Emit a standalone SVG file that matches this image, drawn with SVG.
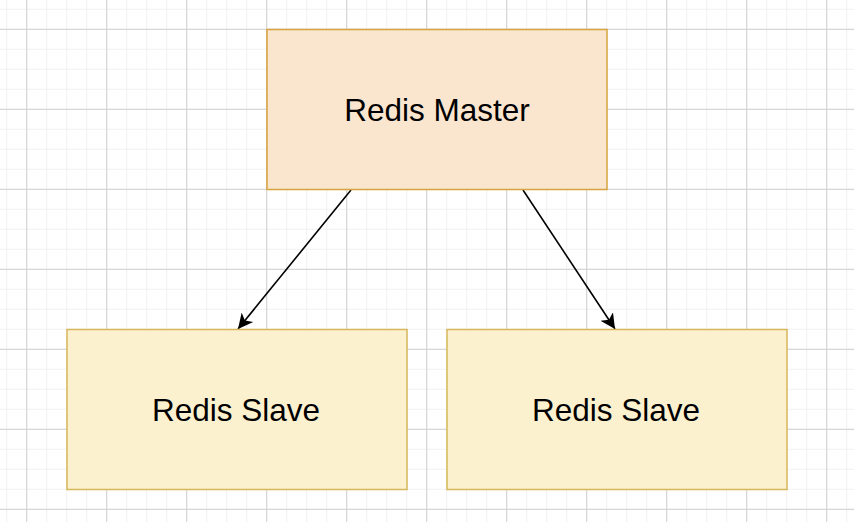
<svg xmlns="http://www.w3.org/2000/svg" width="854" height="522" viewBox="0 0 854 522">
  <style>
    .node-text { font-family: "Liberation Sans", Arial, Helvetica, sans-serif; font-size: 31.5px; fill: #000000; text-anchor: middle; }
    .master { fill: #fae6cf; stroke: #d6a33e; stroke-width: 1.5; }
    .slave { fill: #fcf1cf; stroke: #d6b65b; stroke-width: 1.5; }
    .edge { fill: none; stroke: #000000; stroke-width: 1.6; }
  </style>
  <defs>
    <pattern id="minor" patternUnits="userSpaceOnUse" x="6.2" y="8.8" width="20" height="20">
      <path d="M0 0.5 H20 M0.5 0 V20" fill="none" stroke="#f1f1f1" stroke-width="1"/>
    </pattern>
    <pattern id="major" patternUnits="userSpaceOnUse" x="26.2" y="28.8" width="80" height="80">
      <path d="M0 0.5 H80 M0.5 0 V80" fill="none" stroke="#d0d0d0" stroke-width="1"/>
    </pattern>
    <marker id="arrow" markerUnits="userSpaceOnUse" markerWidth="18" markerHeight="16" refX="15" refY="8" orient="auto">
      <path d="M0,0.5 L15,8 L0,15.5 L4,8 Z" fill="#000000"/>
    </marker>
  </defs>
  <rect x="0" y="0" width="854" height="522" fill="#ffffff"/>
  <rect x="0" y="0" width="854" height="522" fill="url(#minor)"/>
  <rect x="0" y="0" width="854" height="522" fill="url(#major)"/>

  <g id="connectors">
    <line class="edge" x1="351" y1="190" x2="238" y2="329" marker-end="url(#arrow)"/>
    <line class="edge" x1="523" y1="190" x2="615" y2="329" marker-end="url(#arrow)"/>
  </g>

  <g id="master">
    <rect class="master" x="267" y="29.5" width="340" height="160"/>
    <text class="node-text" x="437" y="121">Redis Master</text>
  </g>
  <g id="slave1">
    <rect class="slave" x="67" y="329.5" width="340" height="160"/>
    <text class="node-text" x="236" y="421">Redis Slave</text>
  </g>
  <g id="slave2">
    <rect class="slave" x="447" y="329.5" width="340" height="160"/>
    <text class="node-text" x="616" y="421">Redis Slave</text>
  </g>
</svg>
